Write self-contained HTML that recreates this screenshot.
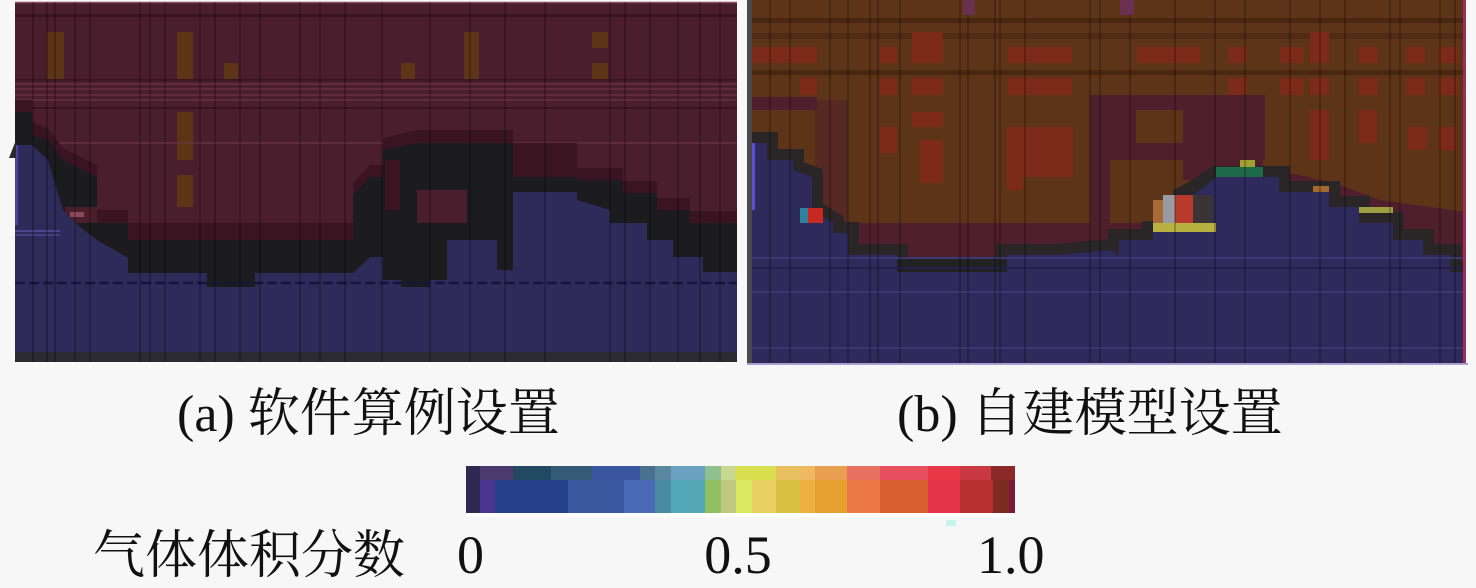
<!DOCTYPE html>
<html><head><meta charset="utf-8"><style>
html,body{margin:0;padding:0;background:#f7f7f7;}
svg{display:block;}
.cap{font-family:"Liberation Serif","Noto Serif CJK SC",serif;font-size:52px;fill:#111;}
.num{font-family:"Liberation Serif",serif;font-size:54px;fill:#111;}
</style></head><body>
<svg width="1476" height="588" viewBox="0 0 1476 588" xmlns="http://www.w3.org/2000/svg">
<rect width="1476" height="588" fill="#f7f7f7"/>

<!-- ============ PANEL A ============ -->
<rect x="15" y="2" width="722" height="360" fill="#4b1e2d"/>
<line x1="15" y1="2.5" x2="737" y2="2.5" stroke="#8a4a60" stroke-width="1.5"/>
<rect x="15" y="14" width="722" height="3" fill="#3a1422"/>
<g fill="#5e3416">
<rect x="47" y="32" width="17" height="48"/>
<rect x="177" y="32" width="16" height="48"/>
<rect x="177" y="112" width="16" height="48"/>
<rect x="177" y="175" width="16" height="32"/>
<rect x="224" y="63" width="14" height="17"/>
<rect x="401" y="63" width="14" height="17"/>
<rect x="464" y="32" width="15" height="48"/>
<rect x="592" y="32" width="16" height="16"/>
<rect x="592" y="63" width="16" height="17"/>
</g>
<g stroke="#6e3548" stroke-width="1.6" opacity="0.8">
<line x1="15" y1="84" x2="737" y2="84"/>
<line x1="15" y1="89" x2="737" y2="89"/>
<line x1="15" y1="95" x2="737" y2="95"/>
<line x1="15" y1="100" x2="737" y2="100"/>
<line x1="15" y1="143" x2="737" y2="143"/>
</g>
<g stroke="#3a1422" stroke-width="2">
<line x1="15" y1="80" x2="737" y2="80"/>
<line x1="15" y1="108" x2="737" y2="108"/>
</g>
<!-- dark maroon band -->
<path d="M15,100 L32,100 L32,122 L48,128 L63,148 L97,165 L97,210 L128,210 L128,223 L353,223 L353,183 L370,165 L383,165 L383,138 L417,130 L513,130 L513,143 L577,143 L577,168 L623,168 L623,181 L657,181 L657,198 L690,198 L690,211 L737,211 L737,362 L15,362 Z" fill="#3a1421"/>
<!-- black interface -->
<path d="M15,112 L32,112 L32,135 L48,140 L63,160 L97,177 L97,223 L128,223 L128,240 L353,240 L353,195 L370,177 L383,177 L383,150 L417,143 L513,143 L513,177 L577,177 L577,180 L623,180 L623,193 L657,193 L657,210 L690,210 L690,223 L737,223 L737,362 L15,362 Z" fill="#1c1b1d"/>
<rect x="65" y="207" width="32" height="16" fill="#4b1e2d"/>
<rect x="70" y="212" width="14" height="5" fill="#8a4a5a"/>
<rect x="417" y="190" width="50" height="33" fill="#4b1e2d"/>
<rect x="385" y="160" width="15" height="50" fill="#3a1421"/>
<!-- blue water -->
<path d="M15,145 L32,145 L48,160 L63,210 L80,227 L97,240 L128,258 L128,273 L207,273 L207,287 L255,287 L255,273 L353,273 L370,257 L383,257 L383,280 L401,280 L401,287 L430,287 L430,280 L447,280 L447,240 L497,240 L497,270 L513,270 L513,192 L577,192 L577,200 L610,210 L610,223 L647,223 L647,240 L673,240 L673,257 L703,257 L703,272 L737,272 L737,352 L15,352 Z" fill="#2e2a5a"/>
<rect x="15" y="145" width="3" height="80" fill="#4a44a0"/>
<line x1="15" y1="283" x2="737" y2="283" stroke="#18143e" stroke-width="2.5" stroke-dasharray="10 4"/>
<line x1="15" y1="231" x2="60" y2="231" stroke="#4a4690" stroke-width="2"/>
<line x1="15" y1="235" x2="60" y2="235" stroke="#4a4690" stroke-width="1.5"/>
<rect x="15" y="352" width="722" height="10" fill="#2c2a32"/>
<polygon points="9,158 16,140 16,158" fill="#2a2a2a"/>
<g stroke="#000" stroke-width="2" opacity="0.22">
<line x1="33" y1="2" x2="33" y2="362"/><line x1="47" y1="2" x2="47" y2="362"/>
<line x1="55" y1="2" x2="55" y2="362"/><line x1="75" y1="2" x2="75" y2="362"/>
<line x1="90" y1="2" x2="90" y2="362"/><line x1="140" y1="2" x2="140" y2="362"/>
<line x1="150" y1="2" x2="150" y2="362"/><line x1="165" y1="2" x2="165" y2="362"/>
<line x1="200" y1="2" x2="200" y2="362"/><line x1="215" y1="2" x2="215" y2="362"/>
<line x1="240" y1="2" x2="240" y2="362"/><line x1="260" y1="2" x2="260" y2="362"/>
<line x1="300" y1="2" x2="300" y2="362"/><line x1="320" y1="2" x2="320" y2="362"/>
<line x1="345" y1="2" x2="345" y2="362"/><line x1="382" y1="2" x2="382" y2="362"/>
<line x1="430" y1="2" x2="430" y2="362"/><line x1="470" y1="2" x2="470" y2="362"/>
<line x1="505" y1="2" x2="505" y2="362"/><line x1="545" y1="2" x2="545" y2="362"/>
<line x1="610" y1="2" x2="610" y2="362"/><line x1="625" y1="2" x2="625" y2="362"/>
<line x1="650" y1="2" x2="650" y2="362"/><line x1="678" y1="2" x2="678" y2="362"/>
<line x1="700" y1="2" x2="700" y2="362"/><line x1="720" y1="2" x2="720" y2="362"/>
</g>

<!-- ============ PANEL B ============ -->
<rect x="752" y="0" width="714" height="363" fill="#5d3418"/>
<g fill="#4a2710">
<rect x="752" y="18" width="714" height="5"/>
<rect x="752" y="33" width="714" height="6" opacity="0.6"/>
<rect x="752" y="70" width="714" height="5"/>
</g>
<g fill="#7c2a1a">
<rect x="752" y="47" width="65" height="16"/><rect x="880" y="47" width="17" height="16"/>
<rect x="912" y="32" width="31" height="31"/><rect x="1008" y="47" width="64" height="16"/>
<rect x="1137" y="47" width="63" height="16"/><rect x="1228" y="47" width="19" height="16"/>
<rect x="1280" y="47" width="23" height="16"/><rect x="1310" y="32" width="19" height="31"/>
<rect x="1359" y="47" width="19" height="16"/><rect x="1406" y="47" width="19" height="16"/>
<rect x="1439" y="47" width="19" height="16"/>
<rect x="800" y="78" width="17" height="17"/><rect x="880" y="78" width="17" height="17"/>
<rect x="912" y="78" width="31" height="17"/><rect x="1008" y="78" width="64" height="17"/>
<rect x="1228" y="78" width="19" height="17"/><rect x="1280" y="78" width="23" height="17"/>
<rect x="1310" y="78" width="19" height="17"/><rect x="1359" y="78" width="19" height="17"/>
<rect x="1406" y="78" width="19" height="17"/><rect x="1439" y="78" width="19" height="17"/>
<rect x="912" y="112" width="31" height="15"/><rect x="880" y="127" width="17" height="26"/>
<rect x="920" y="140" width="23" height="43"/><rect x="1007" y="127" width="66" height="50"/>
<rect x="1007" y="177" width="16" height="13"/>
<rect x="1310" y="110" width="19" height="50"/><rect x="1359" y="110" width="18" height="33"/>
<rect x="1408" y="127" width="19" height="23"/><rect x="1439" y="127" width="17" height="23"/>
</g>
<g fill="#4f1f2e">
<rect x="752" y="97" width="65" height="13"/>
<rect x="815" y="100" width="33" height="125" opacity="0.5"/>
<rect x="1090" y="95" width="175" height="65"/>
<rect x="1090" y="160" width="20" height="65"/>
<rect x="1183" y="160" width="80" height="20"/>
</g>
<rect x="1136" y="110" width="47" height="33" fill="#5d3418"/>
<path d="M833,212 L848,223 L1466,223 L1466,363 L833,363 Z" fill="#4f1f2e"/>
<path d="M1265,170 L1300,175 L1340,185 L1380,200 L1466,212 L1466,230 L1265,230 Z" fill="#4f1f2e"/>
<polyline points="752,143 767,143 767,160 793,160 793,170 812,177 812,210 833,223 833,233 848,233 848,255 897,255 897,272 1007,272 1007,255 1057,255 1110,250 1119,255 1119,240 1153,240 1153,232 1184,232 1184,197 1200,188 1216,177 1279,177 1279,192 1329,192 1329,207 1359,207 1359,223 1393,223 1393,240 1423,240 1423,255 1450,255 1450,272 1466,272" fill="none" stroke="#2a2628" stroke-width="22"/>
<rect x="897" y="257" width="110" height="15" fill="#222"/>
<path d="M752,143 L767,143 L767,160 L793,160 L793,170 L812,177 L812,210 L833,223 L833,233 L848,233 L848,255 L897,255 L897,272 L1007,272 L1007,255 L1057,255 L1110,250 L1119,255 L1119,240 L1153,240 L1153,232 L1184,232 L1184,200 L1200,190 L1216,177 L1279,177 L1279,192 L1329,192 L1329,207 L1359,207 L1359,223 L1393,223 L1393,240 L1423,240 L1423,255 L1450,255 L1450,272 L1466,272 L1466,363 L752,363 Z" fill="#2e2a5c"/>
<g stroke="#3c3874" stroke-width="2">
<line x1="752" y1="258" x2="1466" y2="258"/>
<line x1="752" y1="292" x2="1466" y2="292"/>
<line x1="752" y1="348" x2="1466" y2="348"/>
</g>
<line x1="752" y1="268" x2="1466" y2="268" stroke="#24204c" stroke-width="2"/>
<rect x="800" y="208" width="8" height="15" fill="#3080a0"/>
<rect x="808" y="208" width="15" height="15" fill="#c82a22"/>
<rect x="1153" y="200" width="10" height="23" fill="#a86a3a"/>
<rect x="1163" y="195" width="12" height="28" fill="#9a9aa2"/>
<rect x="1175" y="195" width="18" height="28" fill="#b83a2a"/>
<rect x="1193" y="195" width="20" height="28" fill="#3a3436"/>
<rect x="1153" y="223" width="63" height="9" fill="#b8b040"/>
<rect x="1216" y="167" width="47" height="10" fill="#1e6a48"/>
<rect x="1240" y="160" width="15" height="7" fill="#a0a030"/>
<rect x="1359" y="207" width="34" height="6" fill="#9ca040"/>
<rect x="1313" y="186" width="16" height="6" fill="#a06a30"/>
<g stroke="#000" stroke-width="2" opacity="0.22">
<line x1="770" y1="0" x2="770" y2="363"/><line x1="790" y1="0" x2="790" y2="363"/>
<line x1="830" y1="0" x2="830" y2="363"/><line x1="848" y1="0" x2="848" y2="363"/>
<line x1="870" y1="0" x2="870" y2="363"/><line x1="878" y1="0" x2="878" y2="363"/>
<line x1="900" y1="0" x2="900" y2="363"/><line x1="960" y1="0" x2="960" y2="363"/>
<line x1="968" y1="0" x2="968" y2="363"/><line x1="995" y1="0" x2="995" y2="363"/>
<line x1="1000" y1="0" x2="1000" y2="363"/><line x1="1025" y1="0" x2="1025" y2="363"/>
<line x1="1090" y1="0" x2="1090" y2="363"/><line x1="1100" y1="0" x2="1100" y2="363"/>
<line x1="1130" y1="0" x2="1130" y2="363"/><line x1="1175" y1="0" x2="1175" y2="363"/>
<line x1="1215" y1="0" x2="1215" y2="363"/><line x1="1245" y1="0" x2="1245" y2="363"/>
<line x1="1290" y1="0" x2="1290" y2="363"/><line x1="1320" y1="0" x2="1320" y2="363"/>
<line x1="1345" y1="0" x2="1345" y2="363"/><line x1="1390" y1="0" x2="1390" y2="363"/>
<line x1="1400" y1="0" x2="1400" y2="363"/><line x1="1440" y1="0" x2="1440" y2="363"/>
<line x1="1455" y1="0" x2="1455" y2="363"/>
</g>
<rect x="963" y="0" width="12" height="15" fill="#6a3050"/>
<rect x="1120" y="0" width="14" height="15" fill="#6a3050"/>
<rect x="747" y="0" width="5" height="365" fill="#4a4a4e"/>
<rect x="752" y="143" width="3" height="67" fill="#5a50d0"/>
<rect x="1463" y="0" width="3" height="363" fill="#9a3058"/>
<rect x="747" y="363" width="721" height="2" fill="#a8a0d0"/>

<text class="cap" x="177" y="431">(a) 软件算例设置</text>
<text class="cap" x="897" y="431">(b) 自建模型设置</text>

<g>
<rect x="466" y="480" width="14" height="33" fill="#2f2850"/>
<rect x="480" y="480" width="15" height="33" fill="#4a3590"/>
<rect x="495" y="480" width="73" height="33" fill="#25408a"/>
<rect x="568" y="480" width="56" height="33" fill="#3a58a0"/>
<rect x="624" y="480" width="31" height="33" fill="#4a6ab8"/>
<rect x="655" y="480" width="16" height="33" fill="#4a8aa0"/>
<rect x="671" y="480" width="34" height="33" fill="#55a8b8"/>
<rect x="705" y="480" width="16" height="33" fill="#90c060"/>
<rect x="721" y="480" width="15" height="33" fill="#c0c880"/>
<rect x="736" y="480" width="16" height="33" fill="#d8e860"/>
<rect x="752" y="480" width="24" height="33" fill="#e8d060"/>
<rect x="776" y="480" width="24" height="33" fill="#d8c040"/>
<rect x="800" y="480" width="15" height="33" fill="#f0b040"/>
<rect x="815" y="480" width="32" height="33" fill="#e6a030"/>
<rect x="847" y="480" width="33" height="33" fill="#ec7845"/>
<rect x="880" y="480" width="48" height="33" fill="#d86030"/>
<rect x="928" y="480" width="32" height="33" fill="#e3344a"/>
<rect x="960" y="480" width="33" height="33" fill="#b83030"/>
<rect x="993" y="480" width="16" height="33" fill="#7e2c22"/>
<rect x="1009" y="480" width="6" height="33" fill="#7a1a38"/>
<rect x="466" y="466" width="14" height="14" fill="#2f2850"/>
<rect x="480" y="466" width="33" height="14" fill="#4a3a6e"/>
<rect x="513" y="466" width="38" height="14" fill="#214a62"/>
<rect x="551" y="466" width="41" height="14" fill="#355a78"/>
<rect x="592" y="466" width="48" height="14" fill="#3a56a0"/>
<rect x="640" y="466" width="15" height="14" fill="#4a7090"/>
<rect x="655" y="466" width="16" height="14" fill="#5a88a0"/>
<rect x="671" y="466" width="34" height="14" fill="#6aa0c0"/>
<rect x="705" y="466" width="16" height="14" fill="#90c090"/>
<rect x="721" y="466" width="15" height="14" fill="#c8d890"/>
<rect x="736" y="466" width="40" height="14" fill="#d8e050"/>
<rect x="776" y="466" width="24" height="14" fill="#e8c060"/>
<rect x="800" y="466" width="15" height="14" fill="#f0b860"/>
<rect x="815" y="466" width="32" height="14" fill="#e8a050"/>
<rect x="847" y="466" width="33" height="14" fill="#e87060"/>
<rect x="880" y="466" width="48" height="14" fill="#e85060"/>
<rect x="928" y="466" width="32" height="14" fill="#e83848"/>
<rect x="960" y="466" width="31" height="14" fill="#c83840"/>
<rect x="991" y="466" width="24" height="14" fill="#8a2a28"/>
<rect x="466" y="513" width="549" height="4" fill="#ffffff"/>
<rect x="946" y="520" width="10" height="6" fill="#c8f4f0"/>
</g>

<text class="cap" x="93" y="573">气体体积分数</text>
<text class="num" x="457" y="573">0</text>
<text class="num" x="738" y="573" text-anchor="middle">0.5</text>
<text class="num" x="977" y="573">1.0</text>
</svg>
</body></html>
